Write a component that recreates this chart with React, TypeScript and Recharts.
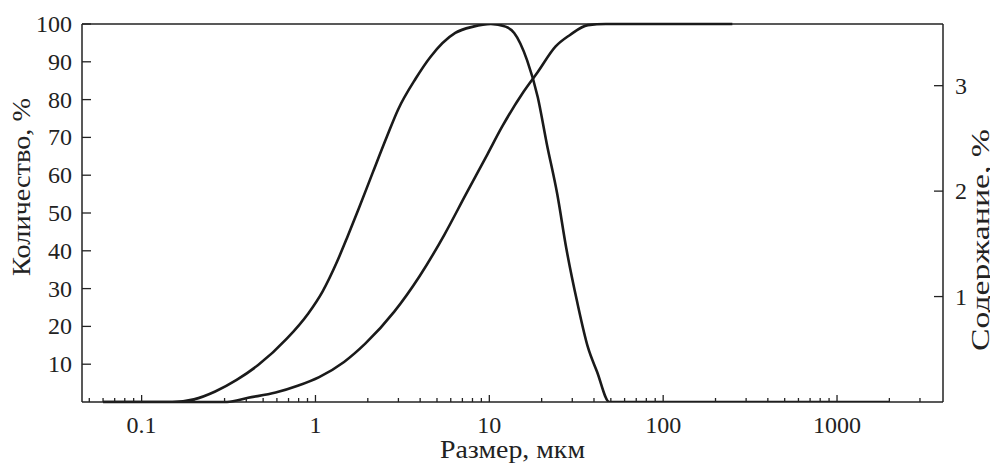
import { LineChart, Line, XAxis, YAxis, ReferenceLine } from "recharts";

// cumulative curve, left axis
const cumSize = [0.06, 0.1, 0.2, 0.31, 0.41, 0.59, 0.79, 1.05, 1.46, 1.94, 2.84, 3.96, 5.52, 7.34, 9.77, 11.8, 15.7, 19.0, 24.0, 29.1, 36.9, 46.8, 100, 250];
const cumValue = [0, 0, 0, 0, 1.1, 2.5, 4.3, 6.6, 10.6, 15.5, 23.9, 33.2, 44.3, 55.0, 65.6, 72.7, 82.0, 87.3, 94.0, 97.1, 99.7, 100, 100, 100];

// differential distribution, right axis
const distSize = [0.06, 0.1, 0.15, 0.2, 0.265, 0.352, 0.468, 0.684, 0.909, 1.1, 1.33, 1.53, 1.77, 2.14, 2.58, 2.98, 3.78, 4.57, 6.37, 8.08, 10.2, 12.4, 13.9, 16.5, 19.0, 21.4, 24.6, 27.7, 32.0, 36.9, 41.6, 49.1, 100, 500, 2000];
const distValue = [0, 0, 0, 0.025, 0.1, 0.21, 0.35, 0.6, 0.84, 1.05, 1.33, 1.57, 1.83, 2.18, 2.52, 2.77, 3.07, 3.27, 3.5, 3.56, 3.585, 3.56, 3.5, 3.24, 2.89, 2.45, 1.97, 1.46, 0.95, 0.52, 0.29, 0, 0, 0, 0];

const xTicks = [
  0.05, 0.06, 0.07, 0.08, 0.09,
  0.1, 0.2, 0.3, 0.4, 0.5, 0.6, 0.7, 0.8, 0.9,
  1, 2, 3, 4, 5, 6, 7, 8, 9,
  10, 20, 30, 40, 50, 60, 70, 80, 90,
  100, 200, 300, 400, 500, 600, 700, 800, 900,
  1000, 2000, 3000,
];
const xLabels = [0.1, 1, 10, 100, 1000];
const leftTicks = [10, 20, 30, 40, 50, 60, 70, 80, 90, 100];
const rightTicks = [1, 2, 3];

const cumData = cumSize.map((size, i) => ({ size, value: cumValue[i] }));
const distData = distSize.map((size, i) => ({ size, value: distValue[i] }));

const INK = "#222";
const FONT = "Liberation Serif";
const SIZE = 24;

const SizeTick = (props: any) => {
  const { x, y, payload } = props;
  const major = xLabels.includes(payload.value);
  return (
    <g>
      <line x1={x} x2={x} y1={y} y2={y - (major ? 7 : 4)} stroke={INK} strokeWidth={1.3} />
      {major && (
        <text x={x} y={y + 31} textAnchor="middle" fontFamily={FONT} fontSize={SIZE} fill={INK}>
          {String(payload.value)}
        </text>
      )}
    </g>
  );
};

const LeftTick = (props: any) => {
  const { x, y, payload } = props;
  return (
    <g>
      <line x1={x} x2={x + 9} y1={y} y2={y} stroke={INK} strokeWidth={1.3} />
      <text x={x - 10} y={y + 8} textAnchor="end" fontFamily={FONT} fontSize={SIZE} fill={INK}>
        {payload.value}
      </text>
    </g>
  );
};

const RightTick = (props: any) => {
  const { x, y, payload } = props;
  return (
    <g>
      <line x1={x - 9} x2={x} y1={y} y2={y} stroke={INK} strokeWidth={1.3} />
      <text x={x + 12} y={y + 8} textAnchor="start" fontFamily={FONT} fontSize={SIZE} fill={INK}>
        {payload.value}
      </text>
    </g>
  );
};

// axis titles, stretched to a fixed length
const title = (text: string, x: number, y: number, angle: number, length: number) => () => (
  <text
    x={x}
    y={y}
    transform={angle ? `rotate(${angle} ${x} ${y})` : undefined}
    textAnchor="middle"
    textLength={length}
    lengthAdjust="spacingAndGlyphs"
    fontFamily={FONT}
    fontSize={25}
    fill={INK}
  >
    {text}
  </text>
);

export default function App() {
  return (
    <div style={{ width: 990, height: 456, background: "#fff" }}>
      <LineChart width={990} height={456} margin={{ top: 16, right: 0, bottom: 0, left: 0 }}>
        <XAxis
          dataKey="size"
          type="number"
          scale="log"
          domain={[0.0454, 4070]}
          allowDataOverflow
          ticks={xTicks}
          interval={0}
          tick={<SizeTick />}
          tickLine={false}
          tickSize={0}
          tickMargin={0}
          height={62}
          axisLine={{ stroke: INK, strokeWidth: 1.5 }}
          label={{ content: title("Размер, мкм", 504.5, 450, 0, 145) }}
        />
        <YAxis
          yAxisId="left"
          type="number"
          domain={[0, 100]}
          ticks={leftTicks}
          interval={0}
          tick={<LeftTick />}
          tickLine={false}
          tickSize={0}
          tickMargin={0}
          width={74}
          axisLine={{ stroke: INK, strokeWidth: 1.5 }}
          label={{ content: title("Количество, %", 22, 179, -90, 178) }}
        />
        <YAxis
          yAxisId="right"
          orientation="right"
          type="number"
          domain={[0, 3.585]}
          allowDataOverflow
          ticks={rightTicks}
          interval={0}
          tick={<RightTick />}
          tickLine={false}
          tickSize={0}
          tickMargin={0}
          width={55}
          axisLine={{ stroke: INK, strokeWidth: 1.5 }}
          label={{ content: title("Содержание, %", 981, 232, -90, 222) }}
        />
        <ReferenceLine yAxisId="left" y={100} stroke={INK} strokeWidth={1.5} />
        <Line
          yAxisId="left"
          data={cumData}
          dataKey="value"
          type="monotone"
          stroke="#1a1a1a"
          strokeWidth={2.6}
          dot={false}
          isAnimationActive={false}
        />
        <Line
          yAxisId="right"
          data={distData}
          dataKey="value"
          type="monotone"
          stroke="#1a1a1a"
          strokeWidth={2.6}
          dot={false}
          isAnimationActive={false}
        />
      </LineChart>
    </div>
  );
}
